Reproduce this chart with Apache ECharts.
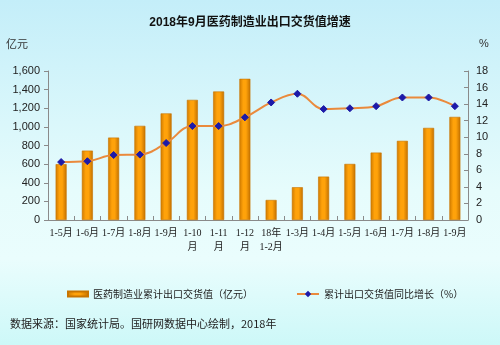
<!DOCTYPE html>
<html><head><meta charset="utf-8">
<script src="https://cdn.jsdelivr.net/npm/echarts@6/dist/echarts.min.js"></script>
<style>html,body{margin:0;padding:0;}#c{width:500px;height:345px;}</style>
</head><body><div id="c"></div>
<script>
const categories = ['1-5月','1-6月','1-7月','1-8月','1-9月','1-10\n月','1-11\n月','1-12\n月','18年\n1-2月','1-3月','1-4月','1-5月','1-6月','1-7月','1-8月','1-9月'];
const exportValue = [600, 745, 885, 1011, 1145, 1290, 1380, 1516, 215, 352, 466, 602, 724, 850, 989, 1107];
const growthRate = [7.0, 7.1, 7.85, 7.9, 9.3, 11.35, 11.35, 12.4, 14.2, 15.25, 13.4, 13.5, 13.75, 14.8, 14.8, 13.75];
const leftTicks = {min: 0, max: 1600, interval: 200};
const rightTicks = {min: 0, max: 18, interval: 2};
const barName = '医药制造业累计出口交货值（亿元）';
const lineName = '累计出口交货值同比增长（%）';

const chart = echarts.init(document.getElementById('c'), null, {renderer: 'canvas'});
const axisColor = '#8a8a8a';
chart.setOption({
  animation: false,
  backgroundColor: {type: 'linear', x: 0, y: 0, x2: 0, y2: 1, colorStops: [
    {offset: 0, color: '#c4eef9'}, {offset: 0.55, color: '#e6fcfc'}, {offset: 0.75, color: '#eafdfd'}, {offset: 1, color: '#cdf8f8'}]},
  title: {text: '2018年9月医药制造业出口交货值增速', left: 'center', top: 12,
    textStyle: {fontSize: 12, fontWeight: 'bold', color: '#111', fontFamily: 'Liberation Sans, Noto Sans CJK SC'}},
  graphic: [
    {type: 'text', left: 6, top: 38, style: {text: '亿元', fill: '#333', font: '11px "Noto Sans CJK SC"'}},
    {type: 'text', left: 479, top: 38, style: {text: '%', fill: '#333', font: '11px "Liberation Sans"'}},
    {type: 'text', left: 10, top: 318, style: {text: '数据来源：国家统计局。国研网数据中心绘制，2018年', fill: '#222', font: '11px "Noto Sans CJK SC"'}}
  ],
  legend: [
    {data: [barName], left: 62, top: 284, itemWidth: 20, itemHeight: 5, icon: 'rect',
      textStyle: {fontSize: 10, color: '#222', fontFamily: 'Noto Sans CJK SC'}},
    {data: [lineName], left: 291, top: 284, itemWidth: 22, itemHeight: 8,
      textStyle: {fontSize: 10, color: '#222', fontFamily: 'Noto Sans CJK SC'}}
  ],
  grid: {left: 48, right: 32, top: 71, bottom: 125, containLabel: false},
  xAxis: {type: 'category', data: categories,
    axisLine: {lineStyle: {color: axisColor}}, axisTick: {show: true, length: 4, inside: true, lineStyle: {color: axisColor}},
    axisLabel: {interval: 0, fontSize: 10, color: '#222', margin: 6, lineHeight: 14, fontFamily: 'Liberation Serif, Noto Sans CJK SC'}},
  yAxis: [
    {type: 'value', min: leftTicks.min, max: leftTicks.max, interval: leftTicks.interval,
      axisLine: {show: true, lineStyle: {color: axisColor}}, axisTick: {show: true, length: 4, lineStyle: {color: axisColor}},
      splitLine: {show: false},
      axisLabel: {fontSize: 11, color: '#222', margin: 8, fontFamily: 'Liberation Sans',
        formatter: v => v.toLocaleString('en-US')}},
    {type: 'value', min: rightTicks.min, max: rightTicks.max, interval: rightTicks.interval, position: 'right',
      axisLine: {show: true, lineStyle: {color: axisColor}}, axisTick: {show: true, length: 4, inside: true, lineStyle: {color: axisColor}},
      splitLine: {show: false},
      axisLabel: {fontSize: 11, color: '#222', margin: 8, fontFamily: 'Liberation Sans'}}
  ],
  series: [
    {name: barName, type: 'bar', data: exportValue, yAxisIndex: 0, barWidth: 11,
      itemStyle: {borderColor: '#c87400', borderWidth: 0.6,
        color: {type: 'linear', x: 0, y: 0, x2: 1, y2: 0, colorStops: [
          {offset: 0, color: '#cf7a00'}, {offset: 0.35, color: '#ffa20a'}, {offset: 0.6, color: '#ffa20a'}, {offset: 1, color: '#c27000'}]}}},
    {name: lineName, type: 'line', data: growthRate, yAxisIndex: 1, smooth: 0.4,
      symbol: 'diamond', symbolSize: 7,
      lineStyle: {color: '#ea8a3c', width: 2},
      itemStyle: {color: '#1d1aa8', borderColor: '#1d1aa8'}}
  ]
});
</script></body></html>
